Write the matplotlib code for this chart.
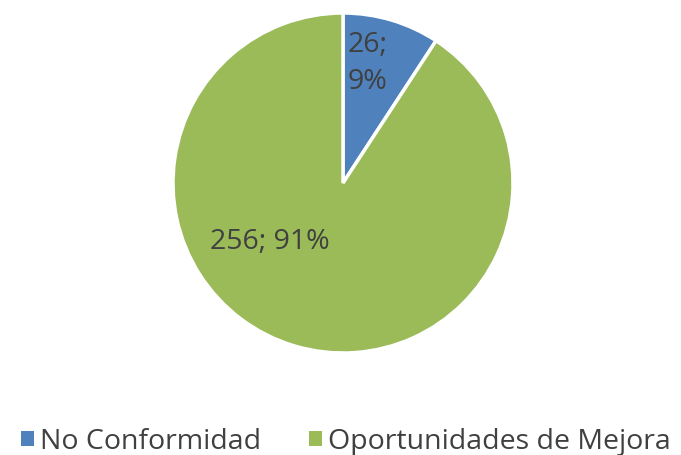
import matplotlib.pyplot as plt
from matplotlib.patches import Patch

# datos del gráfico
categorias = ["No Conformidad", "Oportunidades de Mejora"]
valores = [26, 256]
porcentajes = ["9%", "91%"]
colores = ["#4F81BD", "#9BBB59"]

plt.rcParams['font.family'] = ['Open Sans', 'DejaVu Sans']

fig = plt.figure(figsize=(6.81, 4.56), dpi=100)
ax = fig.add_axes([173 / 681, 102 / 456, 340 / 681, 340 / 456])

ax.pie(valores, colors=colores, startangle=90, counterclock=False,
       radius=1, wedgeprops=dict(edgecolor="white", linewidth=2.5))
ax.set_xlim(-1, 1)
ax.set_ylim(-1, 1)
ax.axis("off")

# etiquetas "valor; porcentaje"
ax.text(0.025, 0.71, f"{valores[0]};\n{porcentajes[0]}", ha="left", va="center",
        fontsize=20.5, color="#404040", linespacing=1.45)
ax.text(-0.43, -0.34, f"{valores[1]}; {porcentajes[1]}", ha="center", va="center",
        fontsize=20.5, color="#404040")

handles = [Patch(facecolor=c, edgecolor="none") for c in colores]
fig.legend(handles, categorias, loc="center", bbox_to_anchor=(0.508, 0.03), ncol=2,
           frameon=False, fontsize=20.5, labelcolor="#404040",
           handlelength=0.45, handleheight=0.45, handletextpad=0.2, columnspacing=1.7)

fig.savefig("out.png", dpi=100)
